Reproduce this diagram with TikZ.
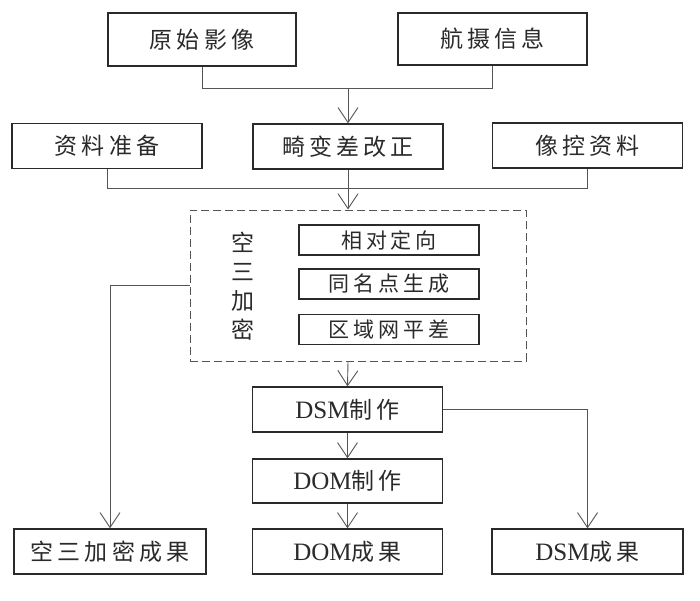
\documentclass[tikz,border=0pt]{standalone}
\usepackage{fontspec}
\setmainfont{Liberation Serif}
\newfontfamily\cjk[LetterSpace=18]{Noto Sans CJK SC}
\newcommand{\lat}[1]{{\rmfamily\fontsize{25pt}{27pt}\selectfont #1}}
\usetikzlibrary{arrows.meta}
\definecolor{ink}{HTML}{2A2A2A}
\definecolor{wire}{HTML}{555555}
\begin{document}
\begin{tikzpicture}[x=1pt,y=-1pt,
  box/.style={draw=ink,line width=1.3pt,inner sep=0pt,text=ink,
    font=\fontsize{23pt}{25pt}\selectfont\cjk},
  ibox/.style={box,minimum width=180pt,minimum height=30pt,
    font=\fontsize{21pt}{23pt}\selectfont\cjk},
  wbox/.style={box,minimum width=190pt,minimum height=45pt},
  conn/.style={draw=wire,line width=0.9pt},
  arr/.style={conn,-{Straight Barb[length=15pt,width=20pt,line width=0.9pt]}}
]
\fill[white] (0,0) rectangle (700,600);
\useasboundingbox (0,0) rectangle (700,600);

% top row
\node[wbox,minimum width=188pt,minimum height=53pt] (yuan) at (202,39.5) {原始影像};
\node[wbox,minimum width=189pt,minimum height=52pt] (hang) at (492.5,39) {航摄信息};

% second row
\node[wbox] (zl) at (107,146) {资料准备};
\node[wbox] (jb) at (348,146.5) {畸变差改正};
\node[wbox] (xk) at (587.5,145.5) {像控资料};

% dashed group
\node[draw=wire,dashed,dash pattern=on 8pt off 4pt,line width=1pt,
  minimum width=336pt,minimum height=151pt,inner sep=0pt] (grp) at (358,285.5) {};
\node[ibox] (xd) at (389,240) {相对定向};
\node[ibox] (tm) at (389,284) {同名点生成};
\node[ibox] (qy) at (389,329.5) {区域网平差};
\node[text=ink,font=\fontsize{23pt}{29pt}\selectfont\cjk,align=center,inner sep=0pt] (ksv) at (243,286.5) {空\\三\\加\\密};

% lower
\node[wbox] (dsm) at (347.5,409.5) {\lat{DSM}制作};
\node[wbox,minimum height=44pt] (dom) at (347.5,481) {\lat{DOM}制作};
\node[wbox,minimum width=192pt] (kscg) at (110,551.5) {空三加密成果};
\node[wbox] (domcg) at (347.5,551.5) {\lat{DOM}成果};
\node[wbox,minimum width=191pt] (dsmcg) at (587.5,551.5) {\lat{DSM}成果};

% connectors
\coordinate (j1) at (348,88);
\coordinate (j2) at (348,188);
\coordinate (j3) at (110,285.5);
\draw[conn] (yuan.south) |- (j1);
\draw[conn] (hang.south) |- (j1);
\draw[arr] (j1) -- (jb.north);
\draw[conn] (zl.south) |- (j2);
\draw[conn] (xk.south) |- (j2);
\draw[arr] (jb.south) -- (jb.south |- grp.north);
\draw[conn] (grp.west) -- (j3);
\draw[arr] (j3) -- (kscg.north);
\draw[arr] (jb.south |- grp.south) -- (dsm.north);
\draw[arr] (dsm.south) -- (dom.north);
\draw[arr] (dom.south) -- (domcg.north);
\draw[arr] (dsm.east) -| (dsmcg.north);
\end{tikzpicture}
\end{document}
